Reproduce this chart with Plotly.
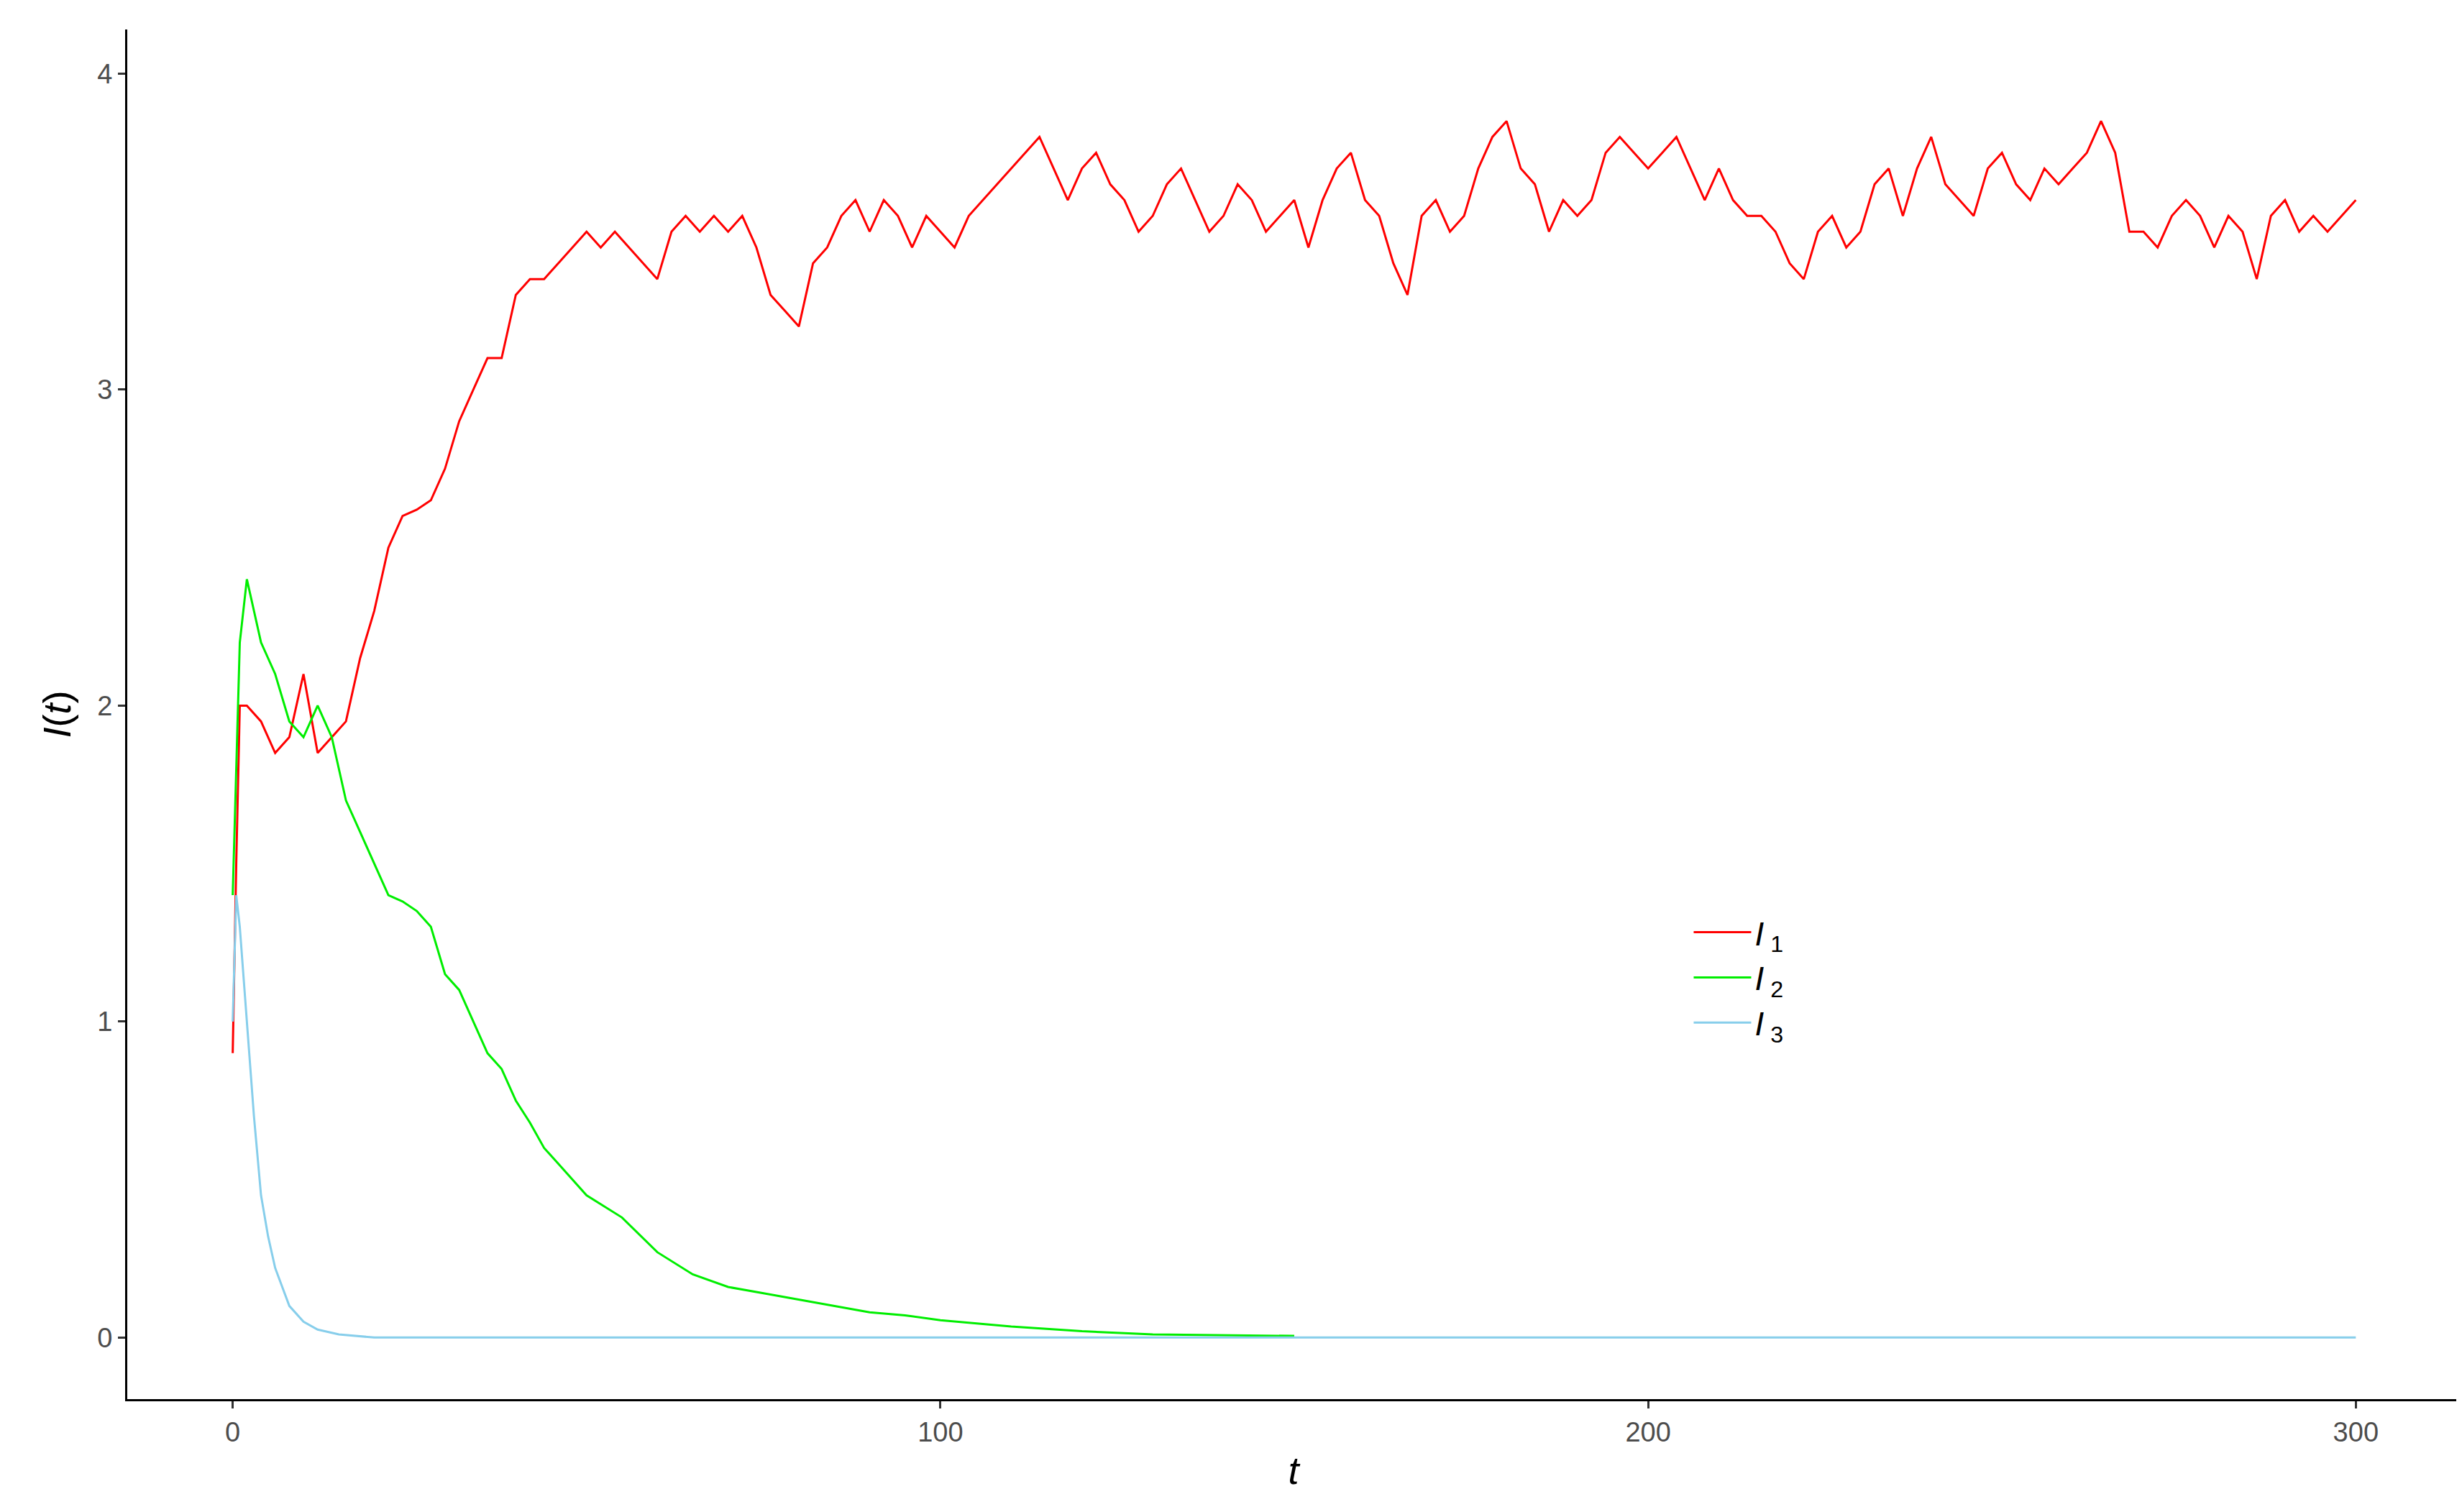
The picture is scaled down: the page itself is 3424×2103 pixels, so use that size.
import plotly.graph_objects as go

# I1 (red)
t_red = [0, 0.5, 1] + list(range(2, 301, 2))
i1 = [0.9, 1.5, 2.0,
      2.0, 1.95, 1.85, 1.9, 2.1, 1.85, 1.9, 1.95, 2.15, 2.3,
      2.5, 2.6, 2.62, 2.65, 2.75, 2.9, 3.0, 3.1, 3.1, 3.3,
      3.35, 3.35, 3.4, 3.45, 3.5, 3.45, 3.5, 3.45, 3.4, 3.35,
      3.5, 3.55, 3.5, 3.55, 3.5, 3.55, 3.45, 3.3, 3.25, 3.2,
      3.4, 3.45, 3.55, 3.6, 3.5, 3.6, 3.55, 3.45, 3.55, 3.5,
      3.45, 3.55, 3.6, 3.65, 3.7, 3.75, 3.8, 3.7, 3.6, 3.7,
      3.75, 3.65, 3.6, 3.5, 3.55, 3.65, 3.7, 3.6, 3.5, 3.55,
      3.65, 3.6, 3.5, 3.55, 3.6, 3.45, 3.6, 3.7, 3.75, 3.6,
      3.55, 3.4, 3.3, 3.55, 3.6, 3.5, 3.55, 3.7, 3.8, 3.85,
      3.7, 3.65, 3.5, 3.6, 3.55, 3.6, 3.75, 3.8, 3.75, 3.7,
      3.75, 3.8, 3.7, 3.6, 3.7, 3.6, 3.55, 3.55, 3.5, 3.4,
      3.35, 3.5, 3.55, 3.45, 3.5, 3.65, 3.7, 3.55, 3.7, 3.8,
      3.65, 3.6, 3.55, 3.7, 3.75, 3.65, 3.6, 3.7, 3.65, 3.7,
      3.75, 3.85, 3.75, 3.5, 3.5, 3.45, 3.55, 3.6, 3.55, 3.45,
      3.55, 3.5, 3.35, 3.55, 3.6, 3.5, 3.55, 3.5, 3.55, 3.6]

# I2 (green)
t_green = [0, 1, 2, 3, 4, 6, 8, 10, 12, 14, 16, 18, 20, 22, 24, 26, 28, 30, 32, 34,
           36, 38, 40, 42, 44, 46, 48, 50, 55, 60, 65, 70, 75, 80, 85, 90, 95, 100,
           110, 120, 130, 140, 150]
i2 = [1.4, 2.2, 2.4, 2.3, 2.2, 2.1, 1.95, 1.9, 2.0, 1.9, 1.7, 1.6, 1.5, 1.4, 1.38,
      1.35, 1.3, 1.15, 1.1, 1.0, 0.9, 0.85, 0.75, 0.68, 0.6, 0.55, 0.5, 0.45, 0.38,
      0.27, 0.2, 0.16, 0.14, 0.12, 0.1, 0.08, 0.07, 0.055, 0.035, 0.02, 0.01, 0.008, 0.005]

# I3 (blue)
t_blue = [0, 0.5, 1, 2, 3, 4, 5, 6, 7, 8, 10, 12, 15, 18, 20, 300]
i3 = [1.0, 1.4, 1.3, 1.0, 0.7, 0.45, 0.32, 0.22, 0.16, 0.1, 0.05, 0.025, 0.01, 0.003, 0.0, 0.0]

fig = go.Figure()
fig.add_trace(go.Scatter(x=t_red, y=i1, mode="lines", line=dict(color="#ff0000", width=3),
                         name="<i>I</i><sub> 1</sub>"))
fig.add_trace(go.Scatter(x=t_green, y=i2, mode="lines", line=dict(color="#00ee00", width=3),
                         name="<i>I</i><sub> 2</sub>"))
fig.add_trace(go.Scatter(x=t_blue, y=i3, mode="lines", line=dict(color="#87ceeb", width=3),
                         name="<i>I</i><sub> 3</sub>"))

axis = dict(showgrid=False, zeroline=False, showline=True, linecolor="black", linewidth=3,
            ticks="outside", ticklen=10, tickwidth=3, tickcolor="#333333",
            tickfont=dict(size=38, color="#4d4d4d"))
fig.update_layout(
    width=3424, height=2103, plot_bgcolor="white", paper_bgcolor="white",
    font=dict(family="Liberation Sans", color="black"),
    margin=dict(l=169, r=11, t=33, b=165),
    xaxis=dict(axis, range=[-14.9, 314.7], tickvals=[0, 100, 200, 300],
               title=dict(text="<i>t</i>", font=dict(size=54), standoff=15)),
    yaxis=dict(axis, range=[-0.195, 4.14], tickvals=[0, 1, 2, 3, 4],
               title=dict(text="<i>I</i>(<i>t</i>)", font=dict(size=54), standoff=20)),
    legend=dict(x=0.67, y=0.36, xanchor="left", yanchor="top", bgcolor="rgba(0,0,0,0)",
                font=dict(size=46), itemwidth=80, tracegroupgap=40),
)
fig.write_html("out.html")
